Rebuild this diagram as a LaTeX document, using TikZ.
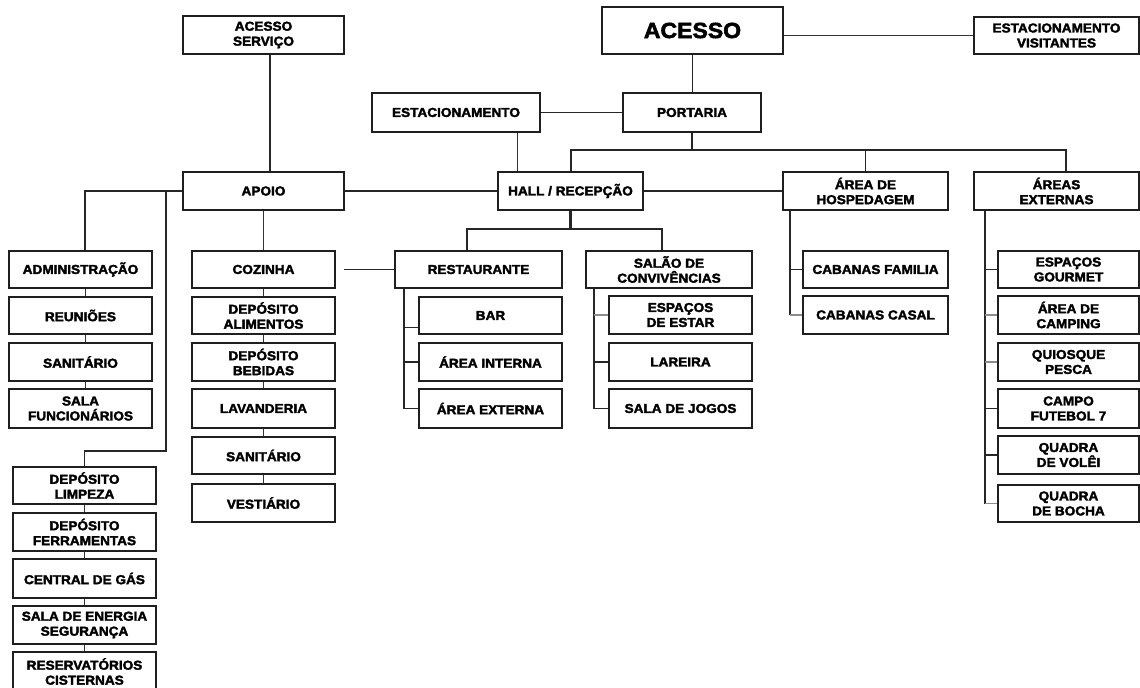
\documentclass[tikz,border=0pt]{standalone}
\usepackage{fontspec}
\setmainfont{Liberation Sans}[BoldFeatures={FakeBold=2.5, FakeStretch=1.05}]
\begin{document}
\begin{tikzpicture}[
 x=1bp, y=-1bp,
 box/.style={draw=black!88, line width=2bp, fill=white, inner sep=0pt, align=center, font=\bfseries\fontsize{13}{15}\selectfont},
 con/.style={draw=black!85, line width=1.6bp},
 thinc/.style={draw=black!80, line width=1bp},
 greyc/.style={draw=black!45, line width=1.4bp},
]
\useasboundingbox (0,0) rectangle (1140,688);
\newcommand\mybox[7][]{\node[box, minimum width={#5bp-#3bp}, minimum height={#6bp-#4bp}, #1] (#2) at ({(#3+#5)/2},{(#4+#6)/2}) {#7};}
% top
\mybox{as}{183}{16}{344}{54}{ACESSO\\SERVIÇO}
\mybox[font=\bfseries\fontsize{22}{24}\selectfont]{acesso}{602}{7}{783}{54}{ACESSO}
\mybox{estvis}{974}{17}{1139}{54}{ESTACIONAMENTO\\VISITANTES}
\mybox{estac}{372}{93}{540}{132}{ESTACIONAMENTO}
\mybox{portaria}{623}{93}{761}{132}{PORTARIA}
\mybox{apoio}{183}{172}{344}{210}{APOIO}
\mybox{hall}{498}{172}{643}{210}{HALL / RECEPÇÃO}
\mybox{hosp}{783}{172}{948}{210}{ÁREA DE\\HOSPEDAGEM}
\mybox{ext}{974}{172}{1139}{210}{ÁREAS\\EXTERNAS}
% left column
\mybox{adm}{9}{251}{152}{288}{ADMINISTRAÇÃO}
\mybox{reu}{9}{297}{152}{334}{REUNIÕES}
\mybox{sanA}{9}{343}{152}{381}{SANITÁRIO}
\mybox{salaf}{9}{389}{152}{428}{SALA\\FUNCIONÁRIOS}
% second column
\mybox{coz}{192}{251}{335}{288}{COZINHA}
\mybox{dal}{192}{297}{335}{334}{DEPÓSITO\\ALIMENTOS}
\mybox{dbe}{192}{343}{335}{381}{DEPÓSITO\\BEBIDAS}
\mybox{lav}{192}{389}{335}{428}{LAVANDERIA}
\mybox{sanB}{192}{437}{335}{474}{SANITÁRIO}
\mybox{ves}{192}{484}{335}{522}{VESTIÁRIO}
% bottom left column
\mybox{dl}{13}{467}{156}{504}{DEPÓSITO\\LIMPEZA}
\mybox{df}{13}{513}{156}{551}{DEPÓSITO\\FERRAMENTAS}
\mybox{cg}{13}{559}{156}{598}{CENTRAL DE GÁS}
\mybox{se}{13}{606}{156}{644}{SALA DE ENERGIA\\SEGURANÇA}
\mybox{res}{13}{652}{156}{691}{RESERVATÓRIOS\\CISTERNAS}
% restaurant / salao
\mybox{rest}{395}{251}{562}{288}{RESTAURANTE}
\mybox{sal}{586}{251}{752}{288}{SALÃO DE\\CONVIVÊNCIAS}
\mybox{bar}{419}{297}{562}{334}{BAR}
\mybox{ai}{419}{343}{562}{381}{ÁREA INTERNA}
\mybox{ae}{419}{389}{562}{428}{ÁREA EXTERNA}
\mybox{ee}{609}{296}{752}{334}{ESPAÇOS\\DE ESTAR}
\mybox{lar}{609}{343}{752}{381}{LAREIRA}
\mybox{sj}{609}{389}{752}{428}{SALA DE JOGOS}
% hospedagem
\mybox{cf}{803}{251}{948}{288}{CABANAS FAMILIA}
\mybox{cc}{803}{296}{948}{334}{CABANAS CASAL}
% externas
\mybox{eg}{998}{251}{1139}{288}{ESPAÇOS\\GOURMET}
\mybox{cam}{998}{296}{1139}{334}{ÁREA DE\\CAMPING}
\mybox{qp}{998}{343}{1139}{381}{QUIOSQUE\\PESCA}
\mybox{cfu}{998}{389}{1139}{428}{CAMPO\\FUTEBOL 7}
\mybox{qv}{998}{436}{1139}{474}{QUADRA\\DE VOLÊI}
\mybox{qb}{998}{485}{1139}{522}{QUADRA\\DE BOCHA}

% connectors
\draw[con] ([xshift=6.5bp]as.south) -- ([xshift=6.5bp]apoio.north);
\draw[con] (acesso.south) -- (acesso.south |- portaria.north);
\draw[thinc] (estvis.west) -- (estvis.west -| acesso.east);
\draw[con] (estac.east) -- (portaria.west);
\draw[thinc] ([xshift=61bp]estac.south) -- ([xshift=61bp]estac.south |- hall.north);
\coordinate (bus) at (692,150);
\draw[con] (portaria.south) -- (portaria.south |- bus);
\draw[con, line width=2bp] (hall.north) -- (hall.north |- bus) -- ([xshift=9.5bp]ext.north |- bus) -- ([xshift=9.5bp]ext.north);
\draw[con] (hosp.north) -- (hosp.north |- bus);
\draw[con] (apoio.east) -- (hall.west);
\draw[con] (hall.east) -- (hosp.west);
\coordinate (bus2) at (570,229);
\draw[con, line width=2.4bp] (hall.south) -- (hall.south |- bus2);
\draw[con] ([xshift=-11.5bp]rest.north) -- ([xshift=-11.5bp]rest.north |- bus2) -- ([xshift=-7bp]sal.north |- bus2) -- ([xshift=-7bp]sal.north);
\draw[con] ([xshift=8bp]coz.east) -- (rest.west);
% restaurant children
\coordinate (rv) at ([xshift=10bp]rest.south west);
\draw[con] (rv) |- (ae.west);
\draw[con] ([yshift=-12bp]bar.west) -- ([yshift=-12bp]bar.west -| rv);
\draw[con] (ai.west) -- (ai.west -| rv);
% salao children
\coordinate (sv) at ([xshift=9bp]sal.south west);
\draw[con] (sv) |- (sj.west);
\draw[greyc] (ee.west) -- (ee.west -| sv);
\draw[con] (lar.west) -- (lar.west -| sv);
% apoio left
\coordinate (av) at ([xshift=4.5bp]adm.north);
\draw[con] (apoio.west) -| (av);
\coordinate (brk) at (166,451);
\draw[con] (apoio.west -| brk) -- (brk) -| (dl.north);
\draw[thinc] ([xshift=4.5bp]adm.south) -- ([xshift=4.5bp]reu.north);
\draw[thinc] ([xshift=4.5bp]reu.south) -- ([xshift=4.5bp]sanA.north);
\draw[thinc] ([xshift=4.5bp]sanA.south) -- ([xshift=4.5bp]salaf.north);
% second column
\draw[thinc] (apoio.south) -- (coz.north);
\draw[thinc] (coz.south) -- (dal.north);
\draw[thinc] (dal.south) -- (dbe.north);
\draw[thinc] (dbe.south) -- (lav.north);
\draw[thinc] (lav.south) -- (sanB.north);
\draw[thinc] (sanB.south) -- (ves.north);
% bottom column
\draw[thinc] (dl.south) -- (df.north);
\draw[thinc] (df.south) -- (cg.north);
\draw[thinc] (cg.south) -- (se.north);
\draw[thinc] (se.south) -- (res.north);
% hospedagem children
\coordinate (hv) at ([xshift=8bp]hosp.south west);
\draw[con] (hv) -- (hv |- cc.west);
\draw[con] (cf.west) -- (cf.west -| hv);
\draw[greyc] (cc.west) -- (cc.west -| hv);
% externas children
\coordinate (ev) at ([xshift=12bp]ext.south west);
\draw[con] (ev) -- (ev |- qb.west);
\draw[con] (eg.west) -- (eg.west -| ev);
\draw[greyc] (cam.west) -- (cam.west -| ev);
\draw[greyc] (qp.west) -- (qp.west -| ev);
\draw[con] (cfu.west) -- (cfu.west -| ev);
\draw[con] (qv.west) -- (qv.west -| ev);
\draw[greyc] (qb.west) -- (qb.west -| ev);
\end{tikzpicture}
\end{document}
